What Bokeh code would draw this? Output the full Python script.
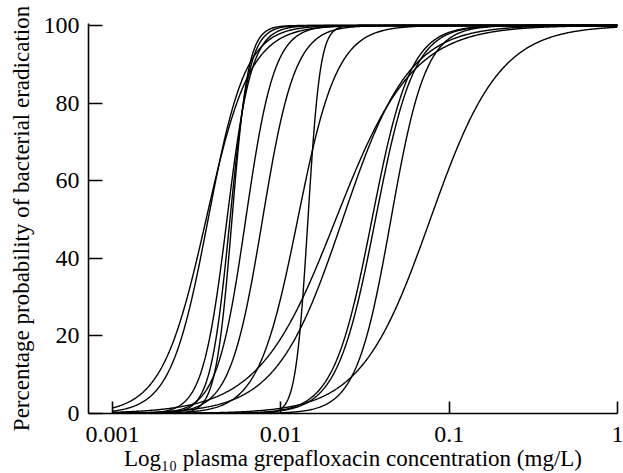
import numpy as np
from bokeh.plotting import figure
from bokeh.models import FixedTicker, Range1d
from bokeh.embed import file_html
from bokeh.resources import INLINE

# ---- data (one fitted sigmoid per isolate) ----
ec50_mg_per_l = [0.00360, 0.00370, 0.00479, 0.00499, 0.00513, 0.00619, 0.00779,
                 0.0126, 0.0145, 0.0212, 0.0233, 0.0348, 0.0365, 0.0451, 0.0772]
hill_slope = [3.3, 3.9, 6.0, 7.5, 9.0, 5.1, 4.5,
              3.7, 12.0, 1.9, 2.2, 3.8, 3.8, 4.2, 2.1]
conc_start = 0.001
conc_end = 1.0
x_tick_values = [0.001, 0.01, 0.1, 1.0]
x_tick_labels = ["0.001", "0.01", "0.1", "1"]
y_tick_values = [0, 20, 40, 60, 80, 100]

conc = np.logspace(np.log10(conc_start), np.log10(conc_end), 600)
xs, ys = [], []
for e, g in zip(ec50_mg_per_l, hill_slope):
    xs.append(conc)
    ys.append(100.0 / (1.0 + (e / conc) ** g))

FONT = "Liberation Serif"

p = figure(width=623, height=473, x_axis_type="log",
           x_range=Range1d(0.000721, 1.0), y_range=Range1d(0, 100.5),
           output_backend="svg", toolbar_location=None,
           min_border_left=88, min_border_right=6,
           min_border_top=23, min_border_bottom=59)

p.multi_line(xs, ys, line_color="black", line_width=1.4)

p.grid.visible = False
p.outline_line_color = None
p.background_fill_color = "white"
p.border_fill_color = "white"

p.xaxis.ticker = FixedTicker(ticks=x_tick_values, minor_ticks=[])
p.xaxis.major_label_overrides = dict(zip(x_tick_values, x_tick_labels))
p.yaxis.ticker = FixedTicker(ticks=y_tick_values, minor_ticks=[])

for ax in (p.xaxis[0], p.yaxis[0]):
    ax.axis_line_color = "black"
    ax.axis_line_width = 1.6
    ax.major_tick_line_color = "black"
    ax.major_tick_line_width = 1.6
    ax.major_tick_out = 0
    ax.minor_tick_line_color = None
    ax.major_label_text_font = FONT
    ax.major_label_text_font_size = "24px"
    ax.major_label_text_color = "black"
    ax.axis_label_text_font = FONT
    ax.axis_label_text_font_size = "23px"
    ax.axis_label_text_font_style = "normal"
    ax.axis_label_text_color = "black"

p.xaxis.major_tick_in = 12
p.yaxis.major_tick_in = 14
p.xaxis.major_label_standoff = 13
p.yaxis.major_label_standoff = 9
p.xaxis.axis_label_standoff = 1
p.yaxis.axis_label_standoff = 7

p.xaxis.axis_label = "Log\u2081\u2080 plasma grepafloxacin concentration (mg/L)"
p.yaxis.axis_label = "Percentage probability of bacterial eradication"

open("out.html", "w").write(file_html(p, INLINE))
